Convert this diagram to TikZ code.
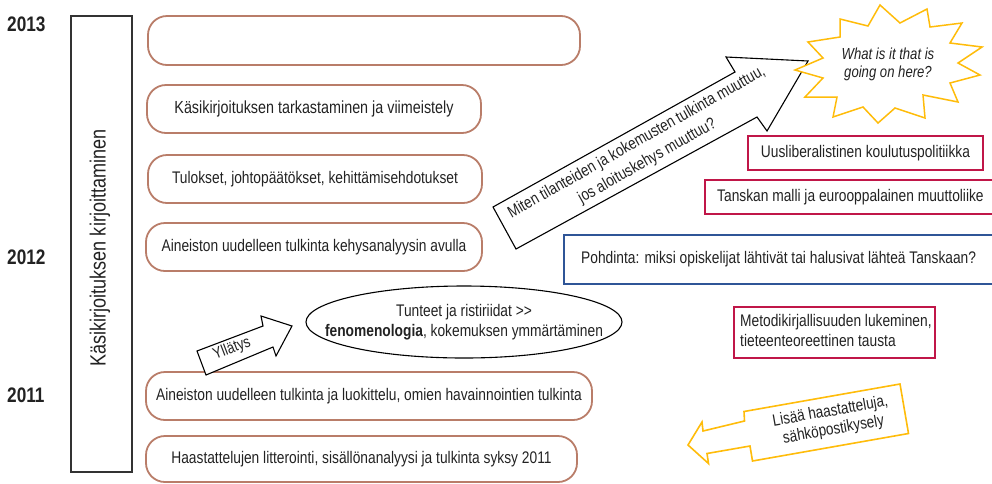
\documentclass[tikz,border=0pt]{standalone}
\usepackage{fontspec}
\setmainfont{Liberation Sans}[FakeStretch=0.82]
\usetikzlibrary{shapes.geometric}
\definecolor{brownc}{RGB}{185,125,105}
\definecolor{redc}{RGB}{192,22,72}
\definecolor{bluec}{RGB}{47,85,151}
\definecolor{yellowc}{RGB}{255,188,10}
\definecolor{textc}{RGB}{34,34,34}
\tikzset{
  every node/.style={text=textc, inner sep=0pt},
  year/.style={font=\fontsize{21}{24}\selectfont\bfseries, anchor=west},
  rbox/.style={draw=brownc, line width=1.8pt, rounded corners=19pt,
    font=\fontsize{16.8}{20}\selectfont},
  redbox/.style={draw=redc, line width=1.6pt},
  bluebox/.style={draw=bluec, line width=1.6pt},
  sidetext/.style={font=\fontsize{16.8}{19.5}\selectfont},
  blockarrow/.style={draw=black, line width=1.1pt, line join=miter, fill=white},
  yarrow/.style={draw=yellowc, line width=1.6pt, line join=miter, fill=white},
  lbl/.style={align=center},
}
\begin{document}
\begin{tikzpicture}[x=1pt,y=-1pt]
\useasboundingbox (0,0) rectangle (992,483);

% years
\node[year] (y13) at (7,24) {2013};
\node[year] (y12) at (7,257) {2012};
\node[year] (y11) at (7,395) {2011};

% vertical bar
\node[draw=black!80, line width=1.2pt, minimum width=61pt, minimum height=456pt] (bar) at (101.5,244) {};
\node[rotate=90, font=\fontsize{22}{24}\selectfont] (bartext) at (100,248) {Käsikirjoituksen kirjoittaminen};

% phase boxes
\node[rbox, minimum width=432pt, minimum height=49pt] (b1) at (364,40.5) {};
\node[rbox, minimum width=334pt, minimum height=48pt, font=\fontsize{17.5}{20}\selectfont] (b2) at (314,109) {Käsikirjoituksen tarkastaminen ja viimeistely};
\node[rbox, minimum width=334pt, minimum height=48pt] (b3) at (315,179) {Tulokset, johtopäätökset, kehittämisehdotukset};
\node[rbox, minimum width=336pt, minimum height=48pt] (b4) at (314,247) {Aineiston uudelleen tulkinta kehysanalyysin avulla};
\node[rbox, minimum width=446pt, minimum height=48pt] (b5) at (369,396) {Aineiston uudelleen tulkinta ja luokittelu, omien havainnointien tulkinta};
\node[rbox, minimum width=431pt, minimum height=46pt] (b6) at (361.5,459) {Haastattelujen litterointi, sisällönanalyysi ja tulkinta syksy 2011};

% ellipse with its text
\node[ellipse, draw=black, line width=1.1pt, minimum width=316pt, minimum height=72pt] (ell) at (464,322) {};
\node[font=\fontsize{16.8}{19.5}\selectfont, align=center] (elltext) at (ell.center)
  {Tunteet ja ristiriidat >{}>\\\textbf{fenomenologia}, kokemuksen ymmärtäminen};

% small arrow
\coordinate (ya1) at (206,375);
\coordinate (ya2) at (197,351);
\coordinate (ya3) at (263,326);
\coordinate (ya4) at (261,316);
\coordinate (ya5) at (292,326);
\coordinate (ya6) at (276,356);
\coordinate (ya7) at (273,347);
\draw[blockarrow] (ya1) -- (ya2) -- (ya3) -- (ya4) -- (ya5) -- (ya6) -- (ya7) -- cycle;
\node[rotate=21, font=\fontsize{16}{18}\selectfont] (yllatys) at (232,349) {Yllätys};

% big arrow
\coordinate (ba1) at (516,249);
\coordinate (ba2) at (493,207);
\coordinate (ba3) at (735,72);
\coordinate (ba4) at (726,57);
\coordinate (ba5) at (808,61);
\coordinate (ba6) at (767,131);
\coordinate (ba7) at (757,117);
\draw[blockarrow] (ba1) -- (ba2) -- (ba3) -- (ba4) -- (ba5) -- (ba6) -- (ba7) -- cycle;
\node[rotate=29.5, lbl, font=\fontsize{16.5}{21.5}\selectfont] (bigtext) at (642,152)
  {Miten tilanteiden ja kokemusten tulkinta muuttuu,\\jos aloituskehys muuttuu?};

% star
\draw[yarrow, line width=1.5pt] (880,5) -- (900,23) -- (927,9) -- (930,27) -- (962,23) -- (950,43)
  -- (982,47) -- (958,63) -- (980,75) -- (950,83) -- (958,102) -- (923,95) -- (925,118)
  -- (895,108) -- (878,123) -- (863,107) -- (833,117) -- (837,97) -- (805,97) -- (823,78)
  -- (795,70) -- (823,58) -- (808,42) -- (840,37) -- (840,19) -- (868,26) -- cycle;
\node[font=\fontsize{16}{18}\selectfont\itshape, align=center] (star) at (888,64)
  {What is it that is\\going on here?};

% context boxes
\node[redbox, minimum width=235pt, minimum height=34pt, sidetext] (r1) at (865.5,153) {Uusliberalistinen koulutuspolitiikka};
\node[redbox, minimum width=292pt, minimum height=34pt, anchor=west] (r2) at (704,197) {};
\node[sidetext, anchor=west] (r2text) at (717,197) {Tanskan malli ja eurooppalainen muuttoliike};
\node[bluebox, minimum width=440pt, minimum height=49pt, anchor=west] (pb) at (563,259.5) {};
\node[sidetext, anchor=west] (pbtext) at (581,259.5) {Pohdinta: miksi opiskelijat lähtivät tai halusivat lähteä Tanskaan?};
\node[redbox, minimum width=201pt, minimum height=51pt] (r3) at (834.5,332.5) {};
\node[sidetext, align=left, anchor=west] (r3text) at (740,330.5)
  {Metodikirjallisuuden lukeminen,\\tieteenteoreettinen tausta};

% callout arrow
\coordinate (ca1) at (688,445);
\coordinate (ca2) at (702,422);
\coordinate (ca3) at (703,431);
\coordinate (ca4) at (744.5,421);
\coordinate (ca5) at (744,411.5);
\coordinate (ca6) at (900,384);
\coordinate (ca7) at (908.5,433.5);
\coordinate (ca8) at (752.5,461);
\coordinate (ca9) at (750,446);
\coordinate (ca10) at (707,453.5);
\coordinate (ca11) at (708.5,463.5);
\draw[yarrow] (ca1) -- (ca2) -- (ca3) -- (ca4) -- (ca5) -- (ca6) -- (ca7) -- (ca8) -- (ca9) -- (ca10) -- (ca11) -- cycle;
\node[rotate=10, lbl, font=\fontsize{16.5}{18.5}\selectfont] (lisaa) at (832,421)
  {Lisää haastatteluja,\\sähköpostikysely};
\end{tikzpicture}
\end{document}
